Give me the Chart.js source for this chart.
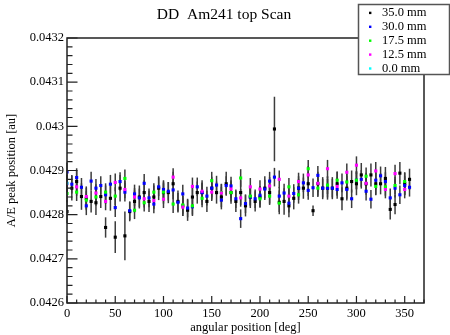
<!DOCTYPE html>
<html>
<head>
<meta charset="utf-8">
<script src="https://cdn.jsdelivr.net/npm/chart.js@4.4.0/dist/chart.umd.min.js"></script>
<style>
  html, body { margin: 0; padding: 0; background: #fff; }
  #wrap { width: 450px; height: 335px; }
</style>
</head>
<body>
<div id="wrap"><canvas id="scan"></canvas></div>
<script>
// angular positions [deg]
const angles5 = [0,5,10,15,20,25,30,35,40,45,50,55,60,65,70,75,80,85,90,95,
  100,105,110,115,120,125,130,135,140,145,150,155,160,165,170,175,180,185,190,195,
  200,205,210,215,220,225,230,235,240,245,250,255,260,265,270,275,280,285,290,295,
  300,305,310,315,320,325,330,335,340,345,350,355]
const angles10 = [0,10,20,30,40,50,60,70,80,90,100,110,120,130,140,150,160,170,
  180,190,200,210,220,230,240,250,260,270,280,290,300,310,320,330,340,350]

// A/E peak positions
const pos35 = [0.042807,0.04286,0.042875,0.042841,0.042837,0.04283,0.042827,0.042841,0.042771,0.042837,
  0.042749,0.04286,0.042752,0.042807,0.04283,0.04284,0.04285,0.04283,0.04284,0.04286,
  0.04285,0.04285,0.04287,0.04283,0.04282,0.04281,0.04284,0.04285,0.04285,0.04283,
  0.04286,0.04285,0.04284,0.04287,0.04285,0.04283,0.04285,0.04282,0.04284,0.04283,
  0.04284,0.04286,0.04285,0.042994,0.042828,0.04283,0.04282,0.042837,0.04286,0.04286,
  0.04287,0.042809,0.04287,0.04286,0.04286,0.04286,0.04287,0.042836,0.04286,0.042875,
  0.04287,0.04289,0.04287,0.04289,0.04287,0.04287,0.042882,0.042812,0.042823,0.042894,
  0.04287,0.04288]
const err35 = [0.000026,0.000028,0.000025,0.000030,0.000027,0.000025,0.000028,0.000026,0.000023,0.000028,
  0.000036,0.000030,0.000055,0.000022,0.000025,0.000026,0.000028,0.000024,0.000026,0.000027,
  0.000025,0.000024,0.000027,0.000025,0.000023,0.000024,0.000026,0.000025,0.000028,0.000024,
  0.000026,0.000025,0.000023,0.000027,0.000025,0.000024,0.000028,0.000024,0.000025,0.000023,
  0.000024,0.000027,0.000025,0.000073,0.000027,0.000030,0.000026,0.000025,0.000027,0.000024,
  0.000028,0.000012,0.000027,0.000025,0.000026,0.000025,0.000027,0.000026,0.000028,0.000025,
  0.000026,0.000027,0.000025,0.000026,0.000025,0.000024,0.000026,0.000023,0.000022,0.000025,
  0.000026,0.000024]

const pos30 = [0.042897,0.042869,0.042884,0.042862,0.04282,0.042876,0.04286,0.042866,0.042845,0.042869,
  0.042816,0.042875,0.042851,0.042809,0.042847,0.042838,0.042871,0.042838,0.042824,0.042863,
  0.042857,0.042853,0.042856,0.042828,0.042847,0.042815,0.042818,0.042863,0.04285,0.042842,
  0.04286,0.042867,0.042833,0.042866,0.042865,0.042836,0.042791,0.042825,0.04284,0.042836,
  0.042844,0.042858,0.042876,0.042885,0.042842,0.042849,0.042826,0.042848,0.04286,0.042872,
  0.042855,0.042861,0.042889,0.04286,0.04286,0.04286,0.042857,0.042872,0.042857,0.042836,
  0.042878,0.04288,0.042853,0.042835,0.042878,0.042888,0.042875,0.042838,0.04286,0.042845,
  0.042866,0.042862]
const err30 = 0.000021

const pos17 = [0.042848,0.042851,0.042833,0.04284,0.042851,0.042842,0.042882,0.04281,0.042827,0.042851,
  0.042851,0.042824,0.042822,0.04282,0.042837,0.042877,0.04285,0.04285,0.042883,0.042842,
  0.042836,0.042842,0.042826,0.042863,0.042845,0.042904,0.04286,0.042867,0.042878,0.042874,
  0.042878,0.042887,0.042864,0.042863,0.042866,0.042875]
const err17 = 0.00002

const pos12 = [0.04287,0.042863,0.042841,0.042849,0.04283,0.042873,0.042857,0.04284,0.042836,0.042832,
  0.042835,0.042885,0.042817,0.042864,0.042853,0.042851,0.042849,0.042858,0.042838,0.042863,
  0.042858,0.042865,0.04288,0.042842,0.042875,0.04289,0.042871,0.042904,0.042864,0.042896,
  0.042912,0.042871,0.042899,0.042857,0.042893,0.042857]
const err12 = 0.00002

const angles0 = [0]
const pos0 = [0.042871]
const err0 = 0.00002

const xTicks = [0,50,100,150,200,250,300,350]
const yTicks = [0.0426,0.0427,0.0428,0.0429,0.043,0.0431,0.0432]
const yTickLabels = ['0.0426','0.0427','0.0428','0.0429','0.043','0.0431','0.0432']

const legendLabels = ['35.0 mm','30.0 mm','17.5 mm','12.5 mm','0.0 mm']
const colors = ['#000000','#0000ff','#00ff00','#ff00ff','#00ffff']

const serif = "'Liberation Serif', 'DejaVu Serif', serif"

function pts(xs, ys, errs) {
  return xs.map((x, i) => ({x: x, y: ys[i], e: Array.isArray(errs) ? errs[i] : errs}))
}

const series = [
  {label: legendLabels[0], data: pts(angles5, pos35, err35), color: colors[0], order: 5},
  {label: legendLabels[1], data: pts(angles5, pos30, err30), color: colors[1], order: 4},
  {label: legendLabels[2], data: pts(angles10, pos17, err17), color: colors[2], order: 3},
  {label: legendLabels[3], data: pts(angles10, pos12, err12), color: colors[3], order: 2},
  {label: legendLabels[4], data: pts(angles0, pos0, err0), color: colors[4], order: 1},
]

// error bars, drawn under the markers
const errorBars = {
  id: 'errorBars',
  beforeDatasetsDraw(chart) {
    const {ctx, scales: {x, y}} = chart
    ctx.save()
    ctx.strokeStyle = '#3c3c3c'
    ctx.lineWidth = 1.5
    chart.data.datasets.forEach((ds) => {
      ds.data.forEach((p) => {
        const px = x.getPixelForValue(p.x)
        ctx.beginPath()
        ctx.moveTo(px, y.getPixelForValue(p.y - p.e))
        ctx.lineTo(px, y.getPixelForValue(p.y + p.e))
        ctx.stroke()
      })
    })
    ctx.restore()
  }
}

// ROOT-like frame with inward ticks, title and legend box
const rootFrame = {
  id: 'rootFrame',
  afterDraw(chart) {
    const {ctx, chartArea: a, scales: {x, y}} = chart
    ctx.save()
    ctx.strokeStyle = '#222'
    ctx.lineWidth = 1.5
    ctx.strokeRect(a.left, a.top, a.right - a.left, a.bottom - a.top)

    ctx.lineWidth = 1.2
    ctx.beginPath()
    for (let v = 0; v <= 370; v += 10) {
      const px = x.getPixelForValue(v)
      const len = (v % 50 === 0) ? 7 : 3.5
      ctx.moveTo(px, a.bottom)
      ctx.lineTo(px, a.bottom - len)
    }
    for (let k = 0; k <= 30; k++) {
      const py = y.getPixelForValue(0.0426 + k * 0.00002)
      const len = (k % 5 === 0) ? 10.5 : 5.5
      ctx.moveTo(a.left, py)
      ctx.lineTo(a.left + len, py)
    }
    ctx.stroke()

    // title
    ctx.fillStyle = '#000'
    ctx.font = '15.5px ' + serif
    ctx.textAlign = 'center'
    ctx.textBaseline = 'middle'
    ctx.fillText('DD  Am241 top Scan', 224, 15)

    // legend
    ctx.fillStyle = '#fff'
    ctx.fillRect(358.5, 4.5, 91, 70)
    ctx.strokeStyle = '#555'
    ctx.lineWidth = 1.5
    ctx.strokeRect(358.5, 4.5, 91, 70)
    ctx.font = '12.5px ' + serif
    ctx.textAlign = 'left'
    legendLabels.forEach((lab, i) => {
      const ly = 12.7 + i * 13.9
      ctx.fillStyle = colors[i]
      ctx.fillRect(369, ly - 1, 2.4, 2.4)
      ctx.fillStyle = '#000'
      ctx.fillText(lab, 382, ly + 0.5)
    })
    ctx.restore()
  }
}

new Chart(document.getElementById('scan'), {
  type: 'scatter',
  data: {
    datasets: series.map((s) => ({
      label: s.label,
      data: s.data,
      order: s.order,
      backgroundColor: s.color,
      borderColor: s.color,
      pointStyle: 'rect',
      pointRadius: 2.2,
      pointBorderWidth: 0,
      pointHoverRadius: 2.2,
    }))
  },
  options: {
    responsive: true,
    maintainAspectRatio: false,
    animation: false,
    events: [],
    layout: {padding: {top: 38, right: 26, left: 0, bottom: 0}},
    plugins: {legend: {display: false}, title: {display: false}, tooltip: {enabled: false}},
    scales: {
      x: {
        type: 'linear',
        min: 0,
        max: 370,
        grid: {display: false, drawTicks: false},
        border: {display: false},
        afterBuildTicks: (s) => { s.ticks = xTicks.map((v) => ({value: v})) },
        afterFit: (s) => { s.height = 32 },
        ticks: {
          color: '#000',
          padding: 3,
          maxRotation: 0,
          font: {family: serif, size: 12.5},
          callback: (v) => String(v)
        },
        title: {
          display: true,
          text: 'angular position [deg]',
          color: '#000',
          padding: {top: 0, bottom: 0},
          font: {family: serif, size: 12.5}
        }
      },
      y: {
        type: 'linear',
        min: 0.0426,
        max: 0.0432,
        grid: {display: false, drawTicks: false},
        border: {display: false},
        afterBuildTicks: (s) => { s.ticks = yTicks.map((v) => ({value: v})) },
        afterFit: (s) => { s.width = 67 },
        ticks: {
          color: '#000',
          padding: 3,
          font: {family: serif, size: 12.5},
          callback: (v, i) => yTickLabels[i]
        },
        title: {
          display: true,
          text: 'A/E peak position [au]',
          color: '#000',
          padding: {top: 4, bottom: 0},
          font: {family: serif, size: 12.5}
        }
      }
    }
  },
  plugins: [errorBars, rootFrame]
})
</script>
</body>
</html>
